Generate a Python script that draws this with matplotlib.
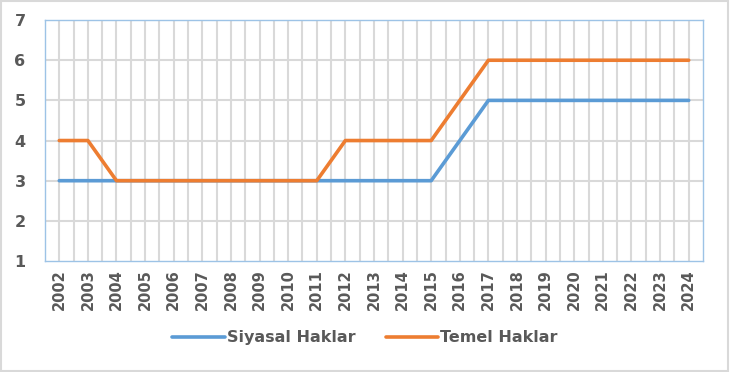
import matplotlib
matplotlib.use("Agg")
import matplotlib.pyplot as plt
from matplotlib.patches import Rectangle

years = [str(y) for y in range(2002, 2025)]
siyasal = [3, 3, 3, 3, 3, 3, 3, 3, 3, 3, 3, 3, 3, 3, 4, 5, 5, 5, 5, 5, 5, 5, 5]
temel = [4, 4, 3, 3, 3, 3, 3, 3, 3, 3, 4, 4, 4, 4, 5, 6, 6, 6, 6, 6, 6, 6, 6]

blue = "#5B9BD5"
orange = "#ED7D31"
txt = "#595959"
grid = "#D9D9D9"

fig = plt.figure(figsize=(7.3, 3.72), dpi=100)
ax = fig.add_axes([0.0616, 0.2984, 0.9014, 0.6476])

x = list(range(len(years)))
ax.plot(x, siyasal, color=blue, lw=2.6, label="Siyasal Haklar", solid_capstyle="round", zorder=3)
ax.plot(x, temel, color=orange, lw=2.6, label="Temel Haklar", solid_capstyle="round", zorder=4)

ax.set_xlim(-0.5, len(years) - 0.5)
ax.set_ylim(1, 7)
ax.set_yticks(range(1, 8))
ax.set_xticks(x)
ax.set_xticklabels(years, rotation=90)

# vertical grid at every category and between categories
for k in range(len(years) * 2 - 1):
    ax.axvline(k / 2, color=grid, lw=1.5, zorder=1)
for yv in range(2, 7):
    ax.axhline(yv, color=grid, lw=1.5, zorder=1)

for s in ax.spines.values():
    s.set_color("#9DC3E6")
    s.set_linewidth(1.0)

ax.tick_params(axis="both", length=0, colors=txt)
ax.tick_params(axis="y", pad=14)
ax.tick_params(axis="x", pad=6)
for lab in ax.get_yticklabels():
    lab.set_fontsize(11.5)
    lab.set_fontweight("bold")
for lab in ax.get_xticklabels():
    lab.set_fontsize(10.5)
    lab.set_fontweight("bold")

leg = fig.legend(loc="center", bbox_to_anchor=(0.5, 0.092), ncol=2, frameon=False,
                 handlelength=3.3, columnspacing=1.9, handletextpad=0.1,
                 prop={"size": 11.5, "weight": "bold"})
for t in leg.get_texts():
    t.set_color(txt)

fig.patches.append(Rectangle((0.002, 0.003), 0.995, 0.993, transform=fig.transFigure,
                             fill=False, edgecolor="#D9D9D9", lw=1.5))

fig.savefig("out.png", dpi=100)
